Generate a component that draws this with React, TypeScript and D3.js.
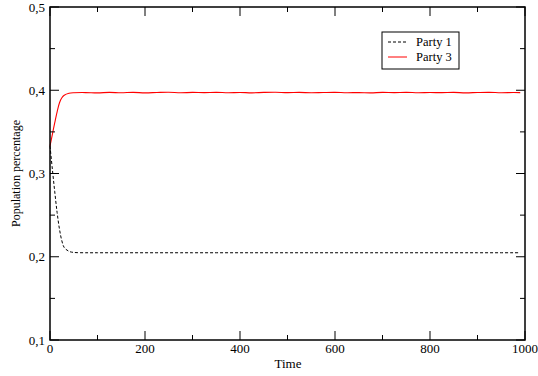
import React from "react";
import * as d3 from "d3";

// sample times and the two series
const times = [
  0, 5, 10, 15, 20, 25, 30, 40, 50, 75, 100, 125, 150, 175, 200, 225, 250, 275, 300,
  325, 350, 375, 400, 425, 450, 475, 500, 525, 550, 575, 600, 625, 650, 675, 700,
  725, 750, 775, 800, 825, 850, 875, 900, 925, 950, 975, 990,
];
const party1 = [
  0.333, 0.305, 0.278, 0.253, 0.233, 0.219, 0.211, 0.2065, 0.2052, 0.2048, 0.2048,
  0.2048, 0.2048, 0.2048, 0.2048, 0.2048, 0.2048, 0.2048, 0.2048, 0.2048, 0.2048,
  0.2048, 0.2048, 0.2048, 0.2048, 0.2048, 0.2048, 0.2048, 0.2048, 0.2048, 0.2048,
  0.2048, 0.2048, 0.2048, 0.2048, 0.2048, 0.2048, 0.2048, 0.2048, 0.2048, 0.2048,
  0.2048, 0.2048, 0.2048, 0.2048, 0.2048, 0.2048,
];
const party3 = [
  0.333, 0.347, 0.361, 0.374, 0.385, 0.391, 0.394, 0.3963, 0.397, 0.3972, 0.3968,
  0.3974, 0.397, 0.3975, 0.3969, 0.3973, 0.3976, 0.397, 0.3974, 0.3971, 0.3975,
  0.397, 0.3973, 0.3969, 0.3974, 0.3976, 0.3971, 0.3974, 0.397, 0.3973, 0.3975,
  0.397, 0.3972, 0.3969, 0.3974, 0.3971, 0.3975, 0.397, 0.3973, 0.3971, 0.3974,
  0.3969, 0.3973, 0.3975, 0.397, 0.3973, 0.3972,
];
const xTicks = [0, 200, 400, 600, 800, 1000];
const yTicks = [0.1, 0.2, 0.3, 0.4, 0.5];
const legendLabels = ["Party 1", "Party 3"];

const W = 538;
const H = 376;
const left = 50, right = 525, top = 7, bottom = 340;
const font = '"Liberation Serif", "Times New Roman", Times, Tinos, "DejaVu Serif", "Noto Serif", serif';

export default function App() {
  const x = d3.scaleLinear().domain([0, 1000]).range([left, right]);
  const y = d3.scaleLinear().domain([0.1, 0.5]).range([bottom, top]);

  const line = d3
    .line<number>()
    .x((_, i) => x(times[i]))
    .y((d) => y(d))
    .curve(d3.curveCatmullRom);

  const xMinor = d3.range(100, 1000, 200);
  const yMinor = d3.range(0.15, 0.5, 0.1);
  const fmt = (v: number) => d3.format(".1f")(v).replace(".", ",");

  return (
    <svg
      width={W}
      height={H}
      style={{ position: "absolute", left: 0, top: 0, background: "#fff", fontFamily: font }}
    >
      {/* series */}
      <path d={line(party1) || ""} fill="none" stroke="#000" strokeWidth={1} strokeDasharray="3,2" />
      <path d={line(party3) || ""} fill="none" stroke="#ff0000" strokeWidth={1.1} />

      {/* frame */}
      <rect x={left} y={top} width={right - left} height={bottom - top} fill="none" stroke="#000" strokeWidth={1.5} />

      {/* x ticks */}
      {xTicks.map((t) => (
        <g key={"x" + t}>
          <line x1={x(t)} x2={x(t)} y1={bottom} y2={bottom - 9} stroke="#000" />
          <line x1={x(t)} x2={x(t)} y1={top} y2={top + 9} stroke="#000" />
          <text x={x(t)} y={353} fontSize={13} textAnchor="middle" style={{ fontFamily: font }}>{t}</text>
        </g>
      ))}
      {xMinor.map((t) => (
        <g key={"xm" + t}>
          <line x1={x(t)} x2={x(t)} y1={bottom} y2={bottom - 5} stroke="#000" />
          <line x1={x(t)} x2={x(t)} y1={top} y2={top + 5} stroke="#000" />
        </g>
      ))}

      {/* y ticks */}
      {yTicks.map((t) => (
        <g key={"y" + t}>
          <line x1={left} x2={left + 9} y1={y(t)} y2={y(t)} stroke="#000" />
          <line x1={right} x2={right - 9} y1={y(t)} y2={y(t)} stroke="#000" />
          <text x={45} y={y(t) + 4.5} fontSize={13} textAnchor="end" style={{ fontFamily: font }}>{fmt(t)}</text>
        </g>
      ))}
      {yMinor.map((t) => (
        <g key={"ym" + t}>
          <line x1={left} x2={left + 5} y1={y(t)} y2={y(t)} stroke="#000" />
          <line x1={right} x2={right - 5} y1={y(t)} y2={y(t)} stroke="#000" />
        </g>
      ))}

      {/* axis titles */}
      <text x={288} y={368} fontSize={13} textAnchor="middle" style={{ fontFamily: font }}>Time</text>
      <text
        transform={`translate(20,${(top + bottom) / 2}) rotate(-90)`}
        fontSize={12}
        textAnchor="middle"
        style={{ fontFamily: font }}
      >
        Population percentage
      </text>

      {/* legend */}
      <rect x={382} y={32} width={77} height={37} fill="#fff" stroke="#000" strokeWidth={1} />
      {legendLabels.map((lab, i) => (
        <g key={lab}>
          <line
            x1={388}
            x2={407}
            y1={42 + i * 15}
            y2={42 + i * 15}
            stroke={i === 0 ? "#000" : "#ff0000"}
            strokeDasharray={i === 0 ? "3,2" : undefined}
          />
          <text x={416} y={46 + i * 15} fontSize={12.5} style={{ fontFamily: font }}>{lab}</text>
        </g>
      ))}
    </svg>
  );
}
